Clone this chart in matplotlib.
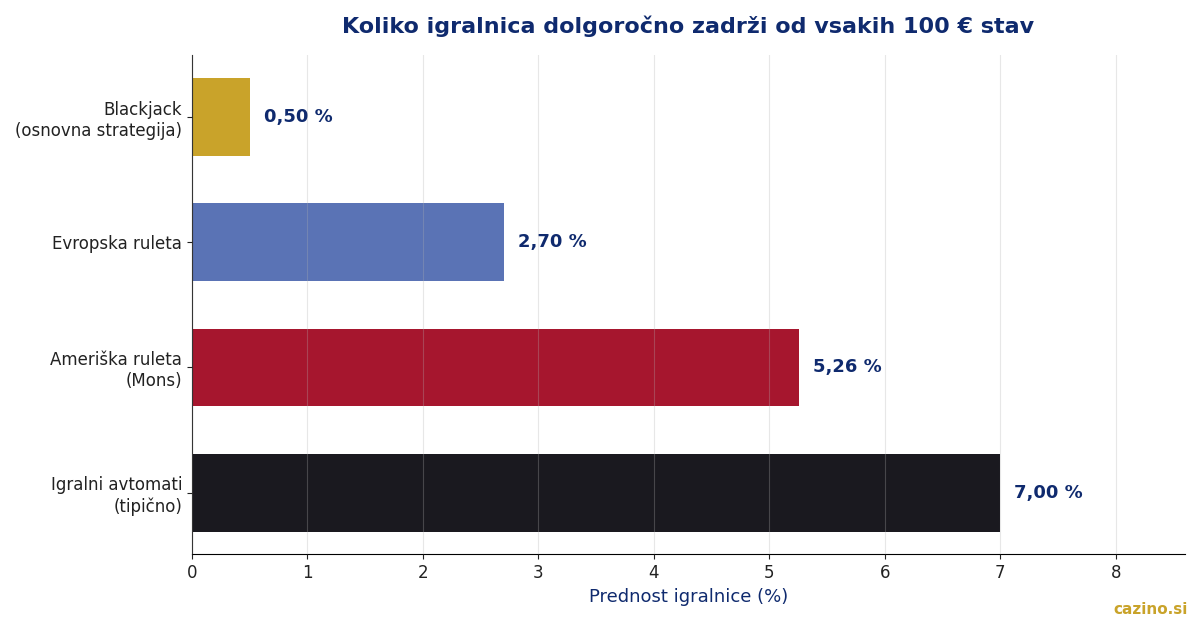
import matplotlib
matplotlib.use("Agg")
import matplotlib.pyplot as plt

categories = ["Blackjack\n(osnovna strategija)", "Evropska ruleta", "Ameriška ruleta\n(Mons)", "Igralni avtomati\n(tipično)"]
values = [0.50, 2.70, 5.26, 7.00]
value_labels = ["0,50 %", "2,70 %", "5,26 %", "7,00 %"]
colors = ["#C9A32A", "#5A73B5", "#A6162E", "#1A191F"]

navy = "#0F2A6E"

fig = plt.figure(figsize=(12, 6.2), dpi=100)
ax = fig.add_axes([0.16, 0.106, 0.8275, 0.805])

ypos = list(range(len(categories)))
ax.barh(ypos, values, height=0.62, color=colors, zorder=1)
ax.invert_yaxis()
ax.set_yticks(ypos)
ax.set_yticklabels(categories, fontsize=12, color="#222222")
ax.set_xlim(0, 8.6)
ax.set_xticks(range(0, 9))
ax.tick_params(axis="x", labelsize=12, colors="#222222")
ax.tick_params(axis="y", colors="#222222")
ax.grid(axis="x", color="#b0b0b0", alpha=0.3, linewidth=0.8, zorder=2)
ax.set_axisbelow(False)
for s in ["top", "right"]:
    ax.spines[s].set_visible(False)
for s in ["left", "bottom"]:
    ax.spines[s].set_color("black")

for y, v, lab in zip(ypos, values, value_labels):
    ax.text(v + 0.12, y, lab, va="center", ha="left", fontsize=13, fontweight="bold", color=navy)

ax.set_xlabel("Prednost igralnice (%)", fontsize=13, color=navy)
fig.text(0.573, 0.958, "Koliko igralnica dolgoročno zadrži od vsakih 100 € stav", ha="center", va="center",
         fontsize=16, fontweight="bold", color=navy)
fig.text(0.99, 0.005, "cazino.si", ha="right", va="bottom", fontsize=11, fontweight="bold", color="#C9A32A")

fig.savefig("out.png", dpi=100)
